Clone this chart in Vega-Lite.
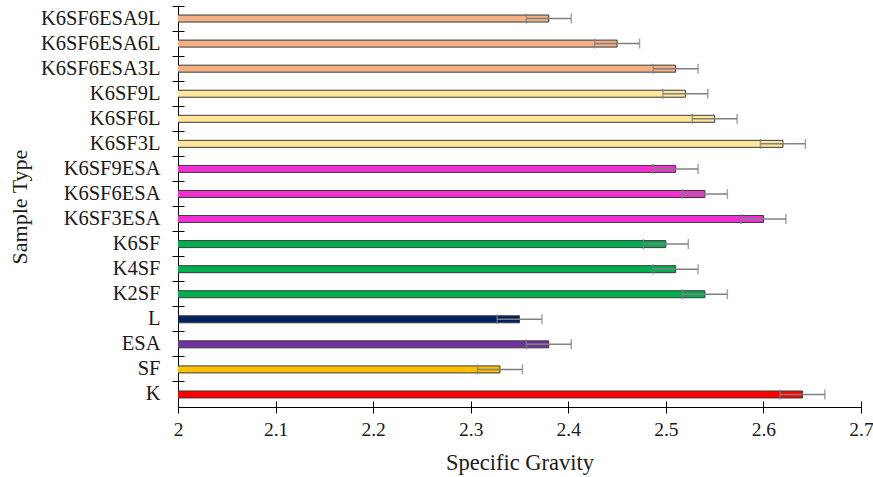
{
  "$schema": "https://vega.github.io/schema/vega-lite/v6.json",
  "width": 683,
  "height": 401,
  "autosize": {"type": "none"},
  "padding": {"left": 178, "top": 6, "right": 12, "bottom": 70},
  "background": "white",
  "config": {
    "view": {"stroke": null},
    "font": "Liberation Serif",
    "axis": {
      "labelFont": "Liberation Serif",
      "titleFont": "Liberation Serif",
      "labelColor": "#1a1a1a",
      "titleColor": "#1a1a1a",
      "titleFontWeight": "normal",
      "domainColor": "#000000",
      "tickColor": "#000000",
      "grid": false
    }
  },
  "data": {
    "values": [
      {"sample": "K6SF6ESA9L", "sg": 2.38, "err": 0.023},
      {"sample": "K6SF6ESA6L", "sg": 2.45, "err": 0.023},
      {"sample": "K6SF6ESA3L", "sg": 2.51, "err": 0.023},
      {"sample": "K6SF9L", "sg": 2.52, "err": 0.023},
      {"sample": "K6SF6L", "sg": 2.55, "err": 0.023},
      {"sample": "K6SF3L", "sg": 2.62, "err": 0.023},
      {"sample": "K6SF9ESA", "sg": 2.51, "err": 0.023},
      {"sample": "K6SF6ESA", "sg": 2.54, "err": 0.023},
      {"sample": "K6SF3ESA", "sg": 2.60, "err": 0.023},
      {"sample": "K6SF", "sg": 2.50, "err": 0.023},
      {"sample": "K4SF", "sg": 2.51, "err": 0.023},
      {"sample": "K2SF", "sg": 2.54, "err": 0.023},
      {"sample": "L", "sg": 2.35, "err": 0.023},
      {"sample": "ESA", "sg": 2.38, "err": 0.023},
      {"sample": "SF", "sg": 2.33, "err": 0.023},
      {"sample": "K", "sg": 2.64, "err": 0.023}
    ]
  },
  "resolve": {"axis": {"x": "independent", "y": "independent"}},
  "layer": [
    {
      "mark": {"type": "bar", "size": 7, "stroke": "#3a3a3a", "strokeWidth": 1, "clip": true},
      "encoding": {
        "y": {
          "field": "sample", "type": "nominal", "sort": null,
          "scale": {"paddingInner": 0, "paddingOuter": 0},
          "axis": {
            "orient": "left",
            "title": "Sample Type", "titleFontSize": 22, "titlePadding": 9,
            "labelFontSize": 20.5, "labelPadding": 12,
            "bandPosition": 0, "tickSize": 6, "tickWidth": 1, "domainWidth": 1
          }
        },
        "x": {
          "field": "sg", "type": "quantitative",
          "scale": {"domain": [2, 2.7], "zero": false, "nice": false},
          "axis": {
            "orient": "bottom", "title": "Specific Gravity", "titleFontSize": 22.5, "titlePadding": 13,
            "values": [2, 2.1, 2.2, 2.3, 2.4, 2.5, 2.6, 2.7], "format": "~g",
            "labelFontSize": 19.5, "labelPadding": 7, "labelFlush": false,
            "tickSize": 6, "tickWidth": 1, "domainWidth": 1
          }
        },
        "color": {
          "field": "sample", "type": "nominal", "legend": null,
          "scale": {
            "domain": ["K6SF6ESA9L", "K6SF6ESA6L", "K6SF6ESA3L", "K6SF9L", "K6SF6L", "K6SF3L", "K6SF9ESA", "K6SF6ESA", "K6SF3ESA", "K6SF", "K4SF", "K2SF", "L", "ESA", "SF", "K"],
            "range": ["#F4B183", "#F4B183", "#F4B183", "#FFE699", "#FFE699", "#FFE699", "#F22FD2", "#F22FD2", "#F22FD2", "#00B050", "#00B050", "#00B050", "#002060", "#7030A0", "#FFC000", "#FF0000"]
          }
        }
      }
    },
    {
      "mark": {"type": "errorbar", "ticks": {"size": 10, "thickness": 1.5, "color": "#808080"}, "rule": {"strokeWidth": 1.5, "color": "#808080"}},
      "encoding": {
        "y": {"field": "sample", "type": "nominal", "sort": null, "axis": null},
        "x": {"field": "sg", "type": "quantitative", "axis": null},
        "xError": {"field": "err"}
      }
    },
    {
      "mark": {"type": "point", "opacity": 0},
      "encoding": {
        "y": {
          "field": "sample", "type": "nominal", "sort": null,
          "axis": {"orient": "left", "title": null, "labels": false, "domain": false, "bandPosition": 0, "tickSize": -6, "tickWidth": 1}
        },
        "x": {
          "field": "sg", "type": "quantitative",
          "axis": {"orient": "bottom", "title": null, "labels": false, "domain": false,
                   "values": [2, 2.1, 2.2, 2.3, 2.4, 2.5, 2.6, 2.7], "tickSize": -6, "tickWidth": 1}
        }
      }
    }
  ]
}
